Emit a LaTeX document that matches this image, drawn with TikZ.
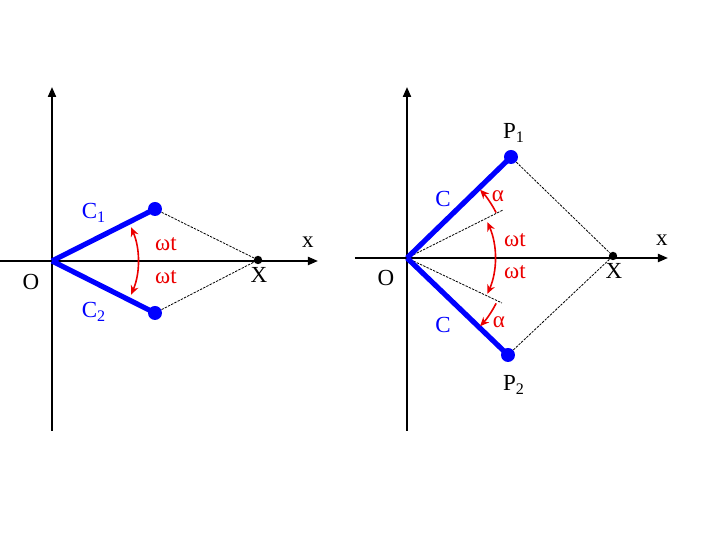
\documentclass[tikz,border=0pt]{standalone}
\usepackage{fontspec}
\setmainfont{Liberation Serif}
\usetikzlibrary{arrows.meta,calc}
\definecolor{penblue}{RGB}{0,0,255}
\definecolor{penred}{RGB}{235,0,0}

\begin{document}
\begin{tikzpicture}[x=0.5pt,y=0.5pt,
  axis/.style={line width=1pt,-{Triangle[length=5pt,width=4pt]}},
  arm/.style={penblue,line width=2.6pt},
  tip/.style={circle,inner sep=0pt,minimum size=7pt,fill=penblue},
  pt/.style={circle,inner sep=0pt,minimum size=4.2pt,fill=black},
  guide/.style={line width=0.4pt,dash pattern=on 1.2pt off 0.6pt},
  turn/.style={penred,line width=0.8pt},
  lbl/.style={inner sep=0pt,font=\fontsize{11.5}{13}\selectfont},
  blbl/.style={lbl,text=penblue},
  rlbl/.style={lbl,text=penred}]
  \useasboundingbox (0,0) rectangle (720,540);
  \coordinate (O1) at (52,279);
  \coordinate (L1) at (0,279);
  \coordinate (R1) at (318,279);
  \coordinate (B1) at (52,109);
  \coordinate (T1) at (52,453);
  \draw[axis] (L1) -- (R1);
  \draw[axis] (B1) -- (T1);
  \draw (155,331) node[tip] (C1) {};
  \draw (155,227) node[tip] (C2) {};
  \draw (258,280) node[pt] (X1) {};
  \draw[guide] (C1) -- (X1);
  \draw[guide] (C2) -- (X1);
  \draw[arm] (O1) -- (C1.center);
  \draw[arm] (O1) -- (C2.center);
  \draw[turn,{Stealth[length=4.5pt,width=4pt]}-{Stealth[length=4.5pt,width=4pt]}] ($(O1)+(23:86)$) arc[start angle=23,end angle=-23,radius=86];
  \node[lbl] (o1) at (31,258) {O};
  \node[lbl] (x1) at (308,298) {x};
  \node[lbl] (xx1) at (259,265) {X};
  \node[blbl] (c1) at (94,327) {C\textsubscript{1}};
  \node[blbl] (c2) at (94,228) {C\textsubscript{2}};
  \node[rlbl] (w1) at (166,296) {ωt};
  \node[rlbl] (w2) at (166,263) {ωt};

  \coordinate (O2) at (407,282);
  \coordinate (L2) at (355,282);
  \coordinate (R2) at (668,282);
  \coordinate (B2) at (407,109);
  \coordinate (T2) at (407,453);
  \draw[axis] (L2) -- (R2);
  \draw[axis] (B2) -- (T2);
  \draw (511,383) node[tip] (P1) {};
  \draw (508,185) node[tip] (P2) {};
  \draw (613,284) node[pt] (X2) {};
  \coordinate (G1) at (503,330);
  \coordinate (G2) at (502,237);
  \draw[guide] (P1) -- (X2);
  \draw[guide] (P2) -- (X2);
  \draw[guide] (O2) -- (G1);
  \draw[guide] (O2) -- (G2);
  \draw[arm] (O2) -- (P1.center);
  \draw[arm] (O2) -- (P2.center);
  \draw[turn,{Stealth[length=4.5pt,width=4pt]}-{Stealth[length=4.5pt,width=4pt]}] ($(O2)+(24:88)$) arc[start angle=24,end angle=-24,radius=88];
  \draw[turn,-{Stealth[length=4.5pt,width=4pt]}] ($(O2)+(27:100)$) arc[start angle=27,end angle=43,radius=100];
  \draw[turn,-{Stealth[length=4.5pt,width=4pt]}] ($(O2)+(-27:100)$) arc[start angle=-27,end angle=-43,radius=100];
  \node[lbl] (o2) at (386,262) {O};
  \node[lbl] (x2) at (662,300) {x};
  \node[lbl] (xx2) at (614,269) {X};
  \node[lbl] (p1) at (514,407) {P\textsubscript{1}};
  \node[lbl] (p2) at (514,155) {P\textsubscript{2}};
  \node[blbl] (ca) at (443,341) {C};
  \node[blbl] (cb) at (443,215) {C};
  \node[rlbl] (a1) at (498,344) {α};
  \node[rlbl] (a2) at (499,218) {α};
  \node[rlbl] (w3) at (515,300) {ωt};
  \node[rlbl] (w4) at (515,268) {ωt};
\end{tikzpicture}
\end{document}
